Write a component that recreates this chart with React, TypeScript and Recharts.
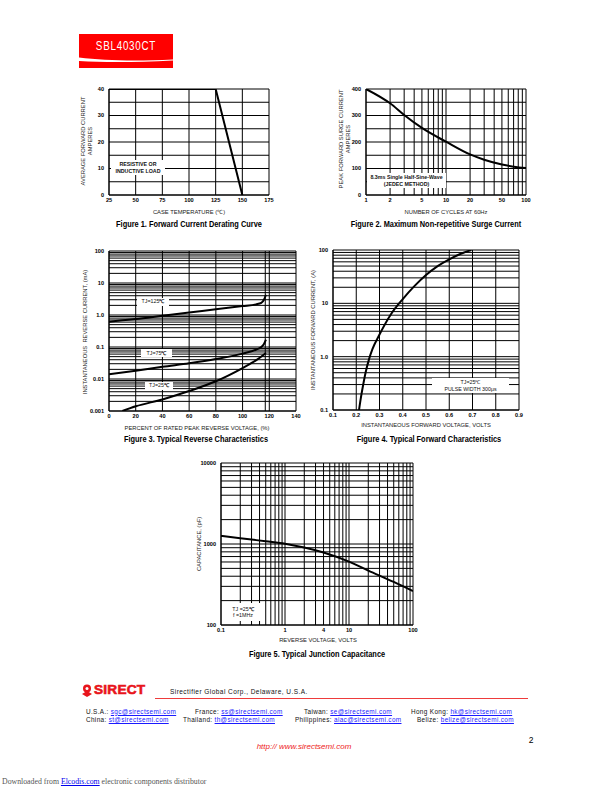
import React from "react";
import { LineChart, Line, XAxis, YAxis, CartesianGrid } from "recharts";

// Figure 1 - derating
const deratingTemp = [25, 125, 150];
const deratingAmps = [40, 40, 0];
const deratingXTicks = [25, 50, 75, 100, 125, 150, 175];
const deratingYTicks = [0, 10, 20, 30, 40];
const deratingYGrid = [0, 5, 10, 15, 20, 25, 30, 35, 40];

// Figure 2 - surge
const surgeCycles = [1, 2, 3, 5, 10, 20, 30, 50, 70, 100];
const surgeAmps = [400, 346, 302, 253, 201, 153, 133, 115, 107, 102];
const surgeXTicks = [1, 2, 5, 10, 20, 50, 100];
const surgeYTicks = [0, 100, 200, 300, 400];
const surgeYGrid = [0, 50, 100, 150, 200, 250, 300, 350, 400];

// Figure 3 - reverse characteristics
const revPct125 = [0, 10, 20, 40, 60, 80, 100, 110, 114, 116, 117.5];
const revMa125 = [0.62, 0.68, 0.75, 0.95, 1.2, 1.5, 1.9, 2.15, 2.4, 3.0, 4.3];
const revPct75 = [0, 20, 40, 60, 80, 100, 110, 114, 116, 117.5];
const revMa75 = [0.014, 0.018, 0.024, 0.031, 0.042, 0.062, 0.082, 0.1, 0.125, 0.17];
const revPct25 = [10, 20, 40, 60, 80, 100, 110, 117.5];
const revMa25 = [0.001, 0.0014, 0.0023, 0.0042, 0.0085, 0.022, 0.038, 0.065];
const revXTicks = [0, 20, 40, 60, 80, 100, 120, 140];
const revXGrid = [0, 20, 40, 60, 80, 100, 117, 120, 140];
const revYTicks = [0.001, 0.01, 0.1, 1, 10, 100];
const revYLabels = ["0.001", "0.01", "0.1", "1.0", "10", "100"];

// Figure 4 - forward characteristics
const fwdVolts = [0.212, 0.22, 0.23, 0.24, 0.255, 0.27, 0.3, 0.35, 0.4, 0.45, 0.5, 0.55, 0.6, 0.65, 0.695];
const fwdAmps = [0.1, 0.17, 0.3, 0.5, 0.9, 1.4, 2.6, 6.3, 12, 21, 34, 50, 67, 85, 100];
const fwdXTicks = [0.1, 0.2, 0.3, 0.4, 0.5, 0.6, 0.7, 0.8, 0.9];
const fwdYTicks = [0.1, 1, 10, 100];
const fwdYLabels = ["0.1", "1.0", "10", "100"];

// Figure 5 - junction capacitance
const capVolts = [0.1, 0.2, 0.5, 1, 2, 4, 10, 20, 50, 100];
const capPf = [1260, 1180, 1080, 1010, 905, 785, 605, 470, 340, 262];
const capXTicks = [0.1, 1, 4, 10, 100];
const capYTicks = [100, 1000, 10000];

const logGrid = (from: number, to: number) => {
  const out: number[] = [];
  for (let d = from; d < to; d *= 10) {
    for (let m = 1; m < 10; m++) out.push(+(m * d).toPrecision(3));
  }
  out.push(to);
  return out;
};

const SANS = "'Liberation Sans', Arial, Helvetica, sans-serif";

const YW = 30;
const XH = 16;
const PAD = 4;
const RPAD = 12;

type Curve = { x: number[]; y: number[]; kind?: "monotone" | "linear" };

interface PlotProps {
  left: number;
  top: number;
  w: number;
  h: number;
  xDomain: [number, number];
  yDomain: [number, number];
  xLog?: boolean;
  yLog?: boolean;
  xTicks: number[];
  yTicks: number[];
  xLabels?: string[];
  yLabels?: string[];
  xGrid: number[];
  yGrid: number[];
  curves: Curve[];
}

const tickStyle = { fontSize: 5.6, fontWeight: 700, fill: "#000", fontFamily: SANS };

function Plot(p: PlotProps) {
  const fx = (v: number) => (p.xLabels ? p.xLabels[p.xTicks.indexOf(v)] : String(v));
  const fy = (v: number) => (p.yLabels ? p.yLabels[p.yTicks.indexOf(v)] : String(v));
  return (
    <div style={{ position: "absolute", left: p.left - YW, top: p.top - PAD }}>
      <LineChart
        width={p.w + YW + RPAD}
        height={p.h + PAD + XH}
        margin={{ top: PAD, right: RPAD, bottom: 0, left: 0 }}
      >
        <CartesianGrid
          stroke="#000"
          strokeWidth={1}
          horizontalValues={p.yGrid}
          verticalValues={p.xGrid}
        />
        <XAxis
          type="number"
          dataKey="x"
          domain={p.xDomain}
          scale={p.xLog ? "log" : "linear"}
          ticks={p.xTicks}
          tickFormatter={fx}
          interval={0}
          allowDataOverflow
          height={XH}
          tickLine={false}
          tickSize={2}
          tickMargin={1}
          axisLine={{ stroke: "#000" }}
          tick={tickStyle}
        />
        <YAxis
          type="number"
          dataKey="y"
          domain={p.yDomain}
          scale={p.yLog ? "log" : "linear"}
          ticks={p.yTicks}
          tickFormatter={fy}
          interval={0}
          allowDataOverflow
          width={YW}
          tickLine={false}
          tickSize={2}
          tickMargin={3}
          axisLine={{ stroke: "#000" }}
          tick={tickStyle}
        />
        {p.curves.map((c, i) => (
          <Line
            key={i}
            data={c.x.map((x, j) => ({ x, y: c.y[j] }))}
            dataKey="y"
            type={c.kind ?? "monotone"}
            stroke="#000"
            strokeWidth={2}
            dot={false}
            activeDot={false}
            isAnimationActive={false}
          />
        ))}
      </LineChart>
    </div>
  );
}

function T({
  x,
  y,
  size = 5.8,
  bold = false,
  color = "#222",
  rotate = false,
  squeeze = 1,
  style,
  children,
}: {
  x: number;
  y: number;
  size?: number;
  bold?: boolean;
  color?: string;
  rotate?: boolean;
  squeeze?: number;
  style?: React.CSSProperties;
  children: React.ReactNode;
}) {
  return (
    <div
      style={{
        position: "absolute",
        left: x,
        top: y,
        transform: `translate(-50%, -50%)${rotate ? " rotate(-90deg)" : ""}${squeeze !== 1 ? ` scaleX(${squeeze})` : ""}`,
        fontSize: size,
        fontWeight: bold ? 700 : 400,
        color,
        fontFamily: SANS,
        whiteSpace: "nowrap",
        lineHeight: 1.15,
        textAlign: "center",
        ...style,
      }}
    >
      {children}
    </div>
  );
}

function Caption({ x, y, children }: { x: number; y: number; children: React.ReactNode }) {
  return (
    <T x={x} y={y} size={8.6} bold color="#000" squeeze={0.86}>
      {children}
    </T>
  );
}

function Box({ x, y, w, h, children }: { x: number; y: number; w: number; h: number; children?: React.ReactNode }) {
  return (
    <div
      style={{
        position: "absolute",
        left: x,
        top: y,
        width: w,
        height: h,
        background: "#fff",
        display: "flex",
        flexDirection: "column",
        alignItems: "center",
        justifyContent: "center",
        fontFamily: SANS,
        fontSize: 5.3,
        lineHeight: 1.2,
        color: "#111",
        whiteSpace: "nowrap",
      }}
    >
      {children}
    </div>
  );
}

const Mail = ({ a }: { a: string }) => (
  <span style={{ color: "#1a1aff", textDecoration: "underline" }}>{a}</span>
);

export default function App() {
  const mailStyle: React.CSSProperties = {
    position: "absolute",
    fontFamily: SANS,
    fontSize: 6.4,
    letterSpacing: 0.35,
    color: "#111",
    whiteSpace: "nowrap",
    lineHeight: 1,
  };
  return (
    <div style={{ position: "absolute", left: 0, top: 0, width: 612, height: 792, background: "#fff", overflow: "hidden" }}>
      {/* header */}
      <svg style={{ position: "absolute", left: 79, top: 34 }} width={94} height={34}>
        <rect x={0} y={0} width={94} height={34} fill="#f00" />
        <path d="M0 23.5 C 25 26.5, 55 27.5, 94 25.5 L 94 26.5 C 55 28.5, 25 28.5, 0 27 Z" fill="#fff" />
      </svg>
      <T x={126} y={47} size={12} color="#fff" squeeze={0.82} style={{ letterSpacing: 0.9 }}>
        SBL4030CT
      </T>

      {/* Figure 1 */}
      <Plot
        left={109}
        top={89}
        w={160}
        h={106}
        xDomain={[25, 175]}
        yDomain={[0, 40]}
        xTicks={deratingXTicks}
        yTicks={deratingYTicks}
        xGrid={deratingXTicks}
        yGrid={deratingYGrid}
        curves={[{ x: deratingTemp, y: deratingAmps, kind: "linear" }]}
      />
      <Box x={111} y={160} w={54} h={15}>
        <b>RESISTIVE OR</b>
        <b>INDUCTIVE LOAD</b>
      </Box>
      <T x={86.5} y={141} rotate>
        AVERAGE FORWARD CURRENT
        <br />
        AMPERES
      </T>
      <T x={189} y={211.5}>CASE TEMPERATURE (℃)</T>
      <Caption x={189} y={224.5}>Figure 1. Forward Current Derating Curve</Caption>

      {/* Figure 2 */}
      <Plot
        left={366}
        top={89}
        w={160}
        h={106}
        xDomain={[1, 100]}
        yDomain={[0, 400]}
        xLog
        xTicks={surgeXTicks}
        yTicks={surgeYTicks}
        xGrid={logGrid(1, 100)}
        yGrid={surgeYGrid}
        curves={[{ x: surgeCycles, y: surgeAmps }]}
      />
      <Box x={367} y={173} w={79} h={15}>
        <b>8.3ms Single Half-Sine-Wave</b>
        <b>(JEDEC METHOD)</b>
      </Box>
      <T x={344.5} y={139} rotate>
        PEAK FORWARD SURGE CURRENT
        <br />
        AMPERES
      </T>
      <T x={446} y={211.5}>NUMBER OF CYCLES AT 60Hz</T>
      <Caption x={436} y={224.5}>Figure 2. Maximum Non-repetitive Surge Current</Caption>

      {/* Figure 3 */}
      <Plot
        left={109}
        top={251}
        w={187}
        h={160}
        xDomain={[0, 140]}
        yDomain={[0.001, 100]}
        yLog
        xTicks={revXTicks}
        yTicks={revYTicks}
        yLabels={revYLabels}
        xGrid={revXGrid}
        yGrid={logGrid(0.001, 100)}
        curves={[
          { x: revPct125, y: revMa125 },
          { x: revPct75, y: revMa75 },
          { x: revPct25, y: revMa25 },
        ]}
      />
      <Box x={137} y={297.5} w={32} h={8}>
        <span>TJ=125<b>℃</b></span>
      </Box>
      <Box x={141} y={349} w={31} h={8}>
        <span>TJ=75<b>℃</b></span>
      </Box>
      <Box x={145} y={381.5} w={28} h={8}>
        <span>TJ=25<b>℃</b></span>
      </Box>
      <T x={85} y={332} rotate>
        INSTANTANEOUS&nbsp;&nbsp;REVERSE CURRENT, (mA)
      </T>
      <T x={197} y={427.5}>PERCENT OF RATED PEAK REVERSE VOLTAGE, (%)</T>
      <Caption x={196} y={440}>Figure 3. Typical Reverse Characteristics</Caption>

      {/* Figure 4 */}
      <Plot
        left={333}
        top={250}
        w={186}
        h={160}
        xDomain={[0.1, 0.9]}
        yDomain={[0.1, 100]}
        yLog
        xTicks={fwdXTicks}
        yTicks={fwdYTicks}
        yLabels={fwdYLabels}
        xGrid={fwdXTicks}
        yGrid={logGrid(0.1, 100)}
        curves={[{ x: fwdVolts, y: fwdAmps }]}
      />
      <Box x={432} y={378} w={77} h={15}>
        <span>TJ=25℃</span>
        <span>PULSE WIDTH 300μs</span>
      </Box>
      <T x={313} y={330} rotate>
        INSTANTANEOUS FORWARD CURRENT, (A)
      </T>
      <T x={426} y={424.5}>INSTANTANEOUS FORWARD VOLTAGE, VOLTS</T>
      <Caption x={429} y={440}>Figure 4. Typical Forward Characteristics</Caption>

      {/* Figure 5 */}
      <Plot
        left={221}
        top={463}
        w={192}
        h={162}
        xDomain={[0.1, 100]}
        yDomain={[100, 10000]}
        xLog
        yLog
        xTicks={capXTicks}
        yTicks={capYTicks}
        xGrid={logGrid(0.1, 100)}
        yGrid={logGrid(100, 10000)}
        curves={[{ x: capVolts, y: capPf }]}
      />
      <Box x={223} y={603} w={40} h={18}>
        <span>TJ =25<b>℃</b></span>
        <span>f =1MHz</span>
      </Box>
      <T x={199} y={544} rotate>
        CAPACITANCE, (pF)
      </T>
      <T x={318} y={640}>REVERSE VOLTAGE, VOLTS</T>
      <Caption x={317} y={655}>Figure 5. Typical Junction Capacitance</Caption>

      {/* footer */}
      <svg style={{ position: "absolute", left: 81, top: 684 }} width={12} height={13}>
        <circle cx={6} cy={4.5} r={4} fill="#e8141b" />
        <circle cx={6} cy={4.5} r={1.5} fill="#fff" />
        <path d="M1 10 L6 7 L11 10 L6 13 Z" fill="#e8141b" />
      </svg>
      <div
        style={{
          position: "absolute",
          left: 94,
          top: 683,
          fontFamily: SANS,
          fontWeight: 900,
          fontSize: 13,
          color: "#e8141b",
          letterSpacing: 0.2,
          lineHeight: 1,
          transform: "scaleX(1.05)",
          transformOrigin: "left",
          WebkitTextStroke: "0.6px #e8141b",
        }}
      >
        SIRECT
      </div>
      <div style={{ ...mailStyle, left: 170, top: 689, fontSize: 6.5, letterSpacing: 0.45 }}>
        Sirectifier Global Corp., Delaware, U.S.A.
      </div>
      <div style={{ position: "absolute", left: 155, top: 698, width: 373, height: 1, background: "#ee3b3b" }} />
      <div style={{ ...mailStyle, left: 86, top: 708.5 }}>
        U.S.A.: <Mail a="sgc@sirectsemi.com" />
      </div>
      <div style={{ ...mailStyle, left: 195, top: 708.5 }}>
        France: <Mail a="ss@sirectsemi.com" />
      </div>
      <div style={{ ...mailStyle, left: 304, top: 708.5 }}>
        Taiwan: <Mail a="se@sirectsemi.com" />
      </div>
      <div style={{ ...mailStyle, left: 411, top: 708.5 }}>
        Hong Kong: <Mail a="hk@sirectsemi.com" />
      </div>
      <div style={{ ...mailStyle, left: 86, top: 716.5 }}>
        China: <Mail a="st@sirectsemi.com" />
      </div>
      <div style={{ ...mailStyle, left: 183, top: 716.5 }}>
        Thailand: <Mail a="th@sirectsemi.com" />
      </div>
      <div style={{ ...mailStyle, left: 295, top: 716.5 }}>
        Philippines: <Mail a="aiac@sirectsemi.com" />
      </div>
      <div style={{ ...mailStyle, left: 417, top: 716.5 }}>
        Belize: <Mail a="belize@sirectsemi.com" />
      </div>
      <T x={304} y={747} size={8} color="#ee2222" style={{ fontStyle: "italic" }}>
        http:// www.sirectsemi.com
      </T>
      <T x={531} y={741} size={8.5} color="#000">
        2
      </T>
      <div
        style={{
          position: "absolute",
          left: 2,
          top: 778,
          fontFamily: "'Liberation Serif', 'Times New Roman', serif",
          fontSize: 7.8,
          color: "#555",
          whiteSpace: "nowrap",
          lineHeight: 1,
        }}
      >
        Downloaded from <span style={{ color: "#00e", textDecoration: "underline" }}>Elcodis.com</span> electronic
        components distributor
      </div>
    </div>
  );
}
